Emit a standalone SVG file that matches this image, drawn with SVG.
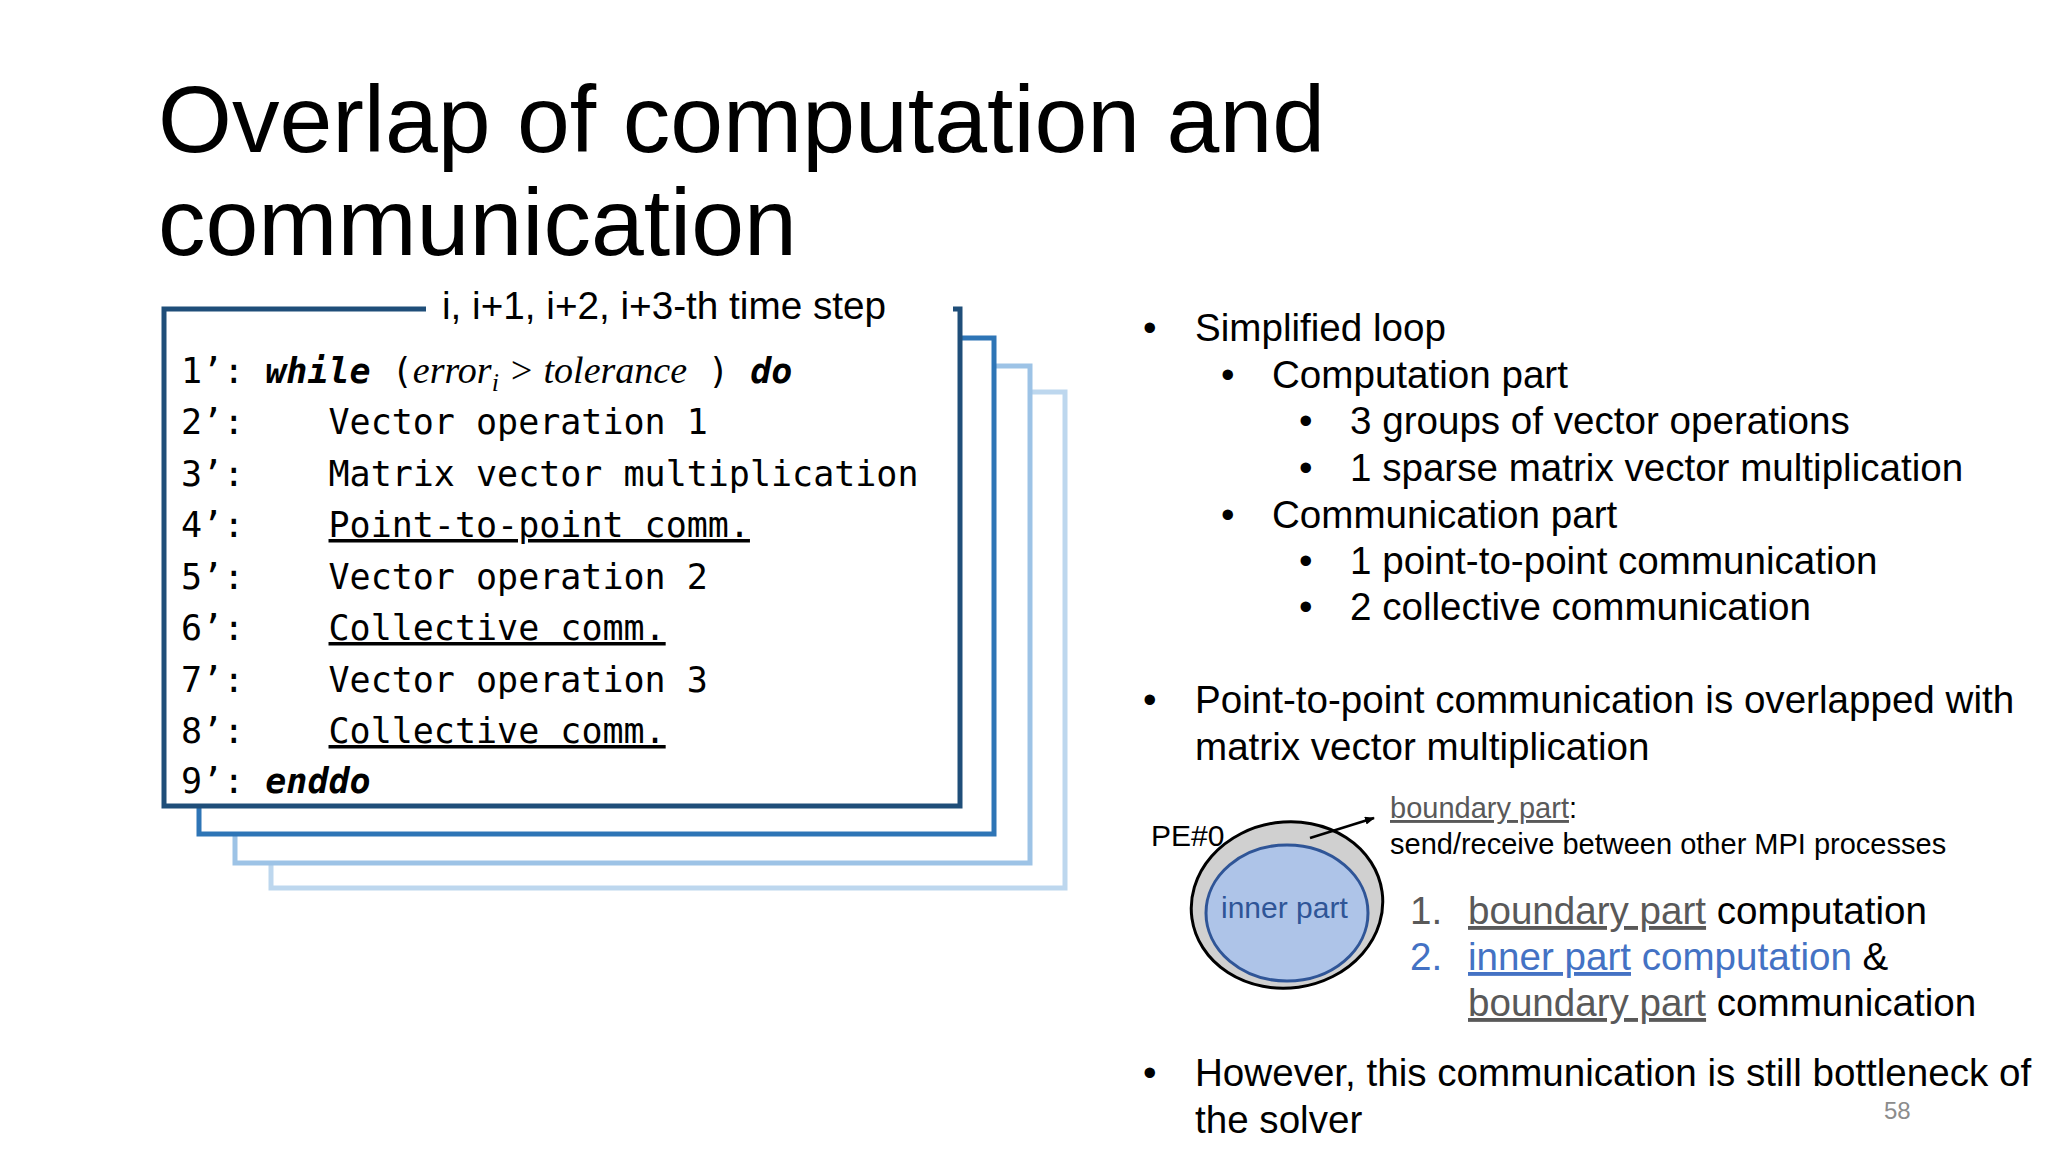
<svg xmlns="http://www.w3.org/2000/svg" width="2048" height="1152" viewBox="0 0 2048 1152">
<style>
.t{font-family:"Liberation Sans",Arial,sans-serif;fill:#000}
.m{font-family:"DejaVu Sans Mono",monospace;font-size:35px;fill:#000}
.b{font-size:38.6px}
.g{fill:#595959}
.u{text-decoration:underline}
.bl{fill:#4472c4}
</style>
<defs><marker id="ah" markerWidth="10" markerHeight="8" refX="9" refY="4" orient="auto" markerUnits="userSpaceOnUse" viewBox="0 0 10 8"><path d="M0,0 L10,4 L0,8 z" fill="#000"/></marker></defs>
<rect width="2048" height="1152" fill="#fff"/>
<text class="t" x="158" y="152" font-size="95">Overlap of computation and</text>
<text class="t" x="158" y="255" font-size="95">communication</text>
<g id="stack" fill="none" stroke-width="5">
<rect x="271" y="392" width="794" height="496" stroke="#bdd7ee" fill="#fff"/>
<rect x="235" y="366" width="795" height="497" stroke="#9dc3e6" fill="#fff"/>
<rect x="199" y="338" width="795" height="496" stroke="#2e75b6" fill="#fff"/>
<rect x="164" y="309" width="796" height="497" stroke="#1f4e79" fill="#fff"/>
<rect x="426" y="300" width="527" height="18" fill="#fff" stroke="none"/>
</g>
<text class="t" x="442" y="319" font-size="38.7">i, i+1, i+2, i+3-th time step</text>
<g id="code">
<text class="m" x="181" y="383" xml:space="preserve">1’: <tspan font-weight="bold" font-style="italic">while</tspan> (<tspan font-family="Liberation Serif,serif" font-style="italic" font-size="38">error<tspan font-size="26" dy="8">i</tspan><tspan dy="-8"> &gt; tolerance</tspan></tspan> ) <tspan font-weight="bold" font-style="italic">do</tspan></text>
<text class="m" x="181" y="434" xml:space="preserve">2’:    Vector operation 1</text>
<text class="m" x="181" y="486" xml:space="preserve">3’:    Matrix vector multiplication</text>
<text class="m" x="181" y="537" xml:space="preserve">4’:    <tspan class="u">Point-to-point comm.</tspan></text>
<text class="m" x="181" y="589" xml:space="preserve">5’:    Vector operation 2</text>
<text class="m" x="181" y="640" xml:space="preserve">6’:    <tspan class="u">Collective comm.</tspan></text>
<text class="m" x="181" y="692" xml:space="preserve">7’:    Vector operation 3</text>
<text class="m" x="181" y="743" xml:space="preserve">8’:    <tspan class="u">Collective comm.</tspan></text>
<text class="m" x="181" y="793" xml:space="preserve">9’: <tspan font-weight="bold" font-style="italic">enddo</tspan></text>
</g>
<g id="bullets">
<text class="t b" x="1143" y="341">•</text><text class="t b" x="1195" y="341">Simplified loop</text>
<text class="t b" x="1221" y="388">•</text><text class="t b" x="1272" y="388">Computation part</text>
<text class="t b" x="1299" y="434">•</text><text class="t b" x="1350" y="434">3 groups of vector operations</text>
<text class="t b" x="1299" y="481">•</text><text class="t b" x="1350" y="481">1 sparse matrix vector multiplication</text>
<text class="t b" x="1221" y="528">•</text><text class="t b" x="1272" y="528">Communication part</text>
<text class="t b" x="1299" y="574">•</text><text class="t b" x="1350" y="574">1 point-to-point communication</text>
<text class="t b" x="1299" y="620">•</text><text class="t b" x="1350" y="620">2 collective communication</text>
<text class="t b" x="1143" y="713">•</text><text class="t b" x="1195" y="713">Point-to-point communication is overlapped with</text>
<text class="t b" x="1195" y="760">matrix vector multiplication</text>
<text class="t b" x="1143" y="1086">•</text><text class="t b" x="1195" y="1086">However, this communication is still bottleneck of</text>
<text class="t b" x="1195" y="1133">the solver</text>
</g>
<g id="pe">
<ellipse cx="1287" cy="905" rx="96" ry="83" fill="#d0d0d0" stroke="#000" stroke-width="3" transform="rotate(-8 1287 905)"/>
<ellipse cx="1287" cy="913" rx="81" ry="68" fill="#aec4e8" stroke="#2f5597" stroke-width="3"/>
<text class="t" x="1221" y="918" font-size="30" style="fill:#2f5597">inner part</text>
<text class="t" x="1151" y="846" font-size="30">PE#0</text>
</g>
<g id="connectors"><line x1="1310" y1="838" x2="1374" y2="818" stroke="#000" stroke-width="2.5" marker-end="url(#ah)"/></g>
<g id="legend">
<text class="t" x="1390" y="818" font-size="29"><tspan class="g u">boundary part</tspan>:</text>
<text class="t" x="1390" y="854" font-size="29">send/receive between other MPI processes</text>
<text class="t b g" x="1410" y="924">1.</text>
<text class="t b" x="1468" y="924"><tspan class="g u">boundary part</tspan> computation</text>
<text class="t b bl" x="1410" y="970">2.</text>
<text class="t b" x="1468" y="970"><tspan class="bl u">inner part</tspan><tspan class="bl"> computation</tspan> &amp;</text>
<text class="t b" x="1468" y="1016"><tspan class="g u">boundary part</tspan> communication</text>
</g>
<text class="t" x="1884" y="1119" font-size="24" style="fill:#8c8c8c">58</text>
</svg>
